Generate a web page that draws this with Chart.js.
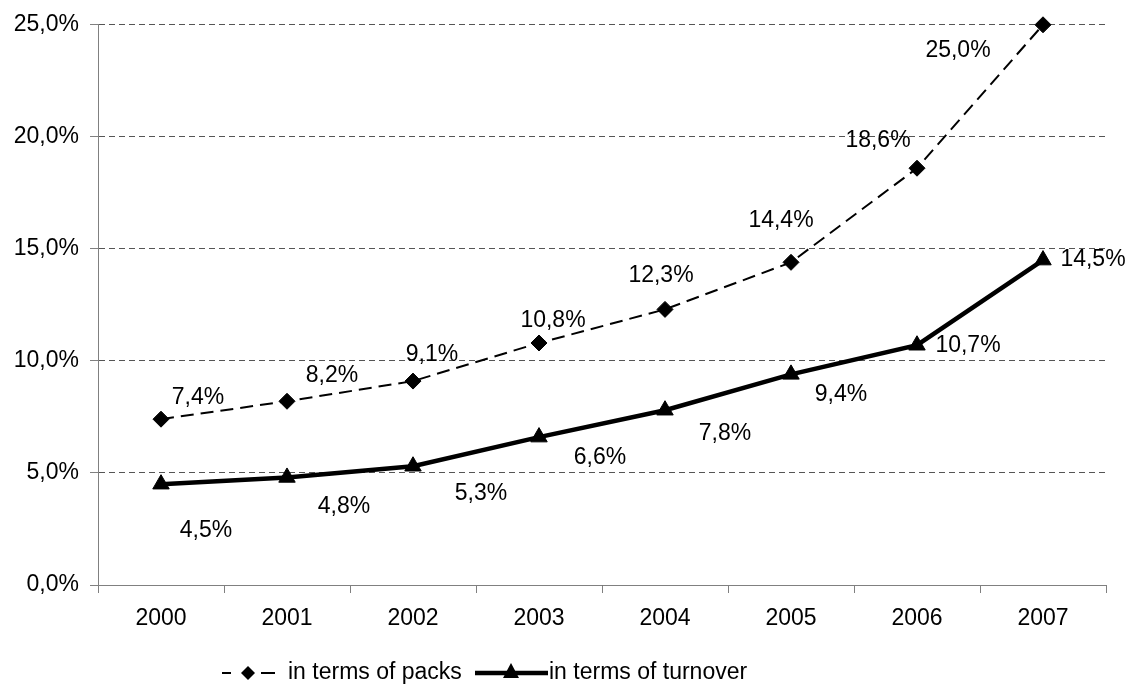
<!doctype html>
<html lang="en">
  <head>
    <meta charset="utf-8">
    <title> packs vs turnover </title>
    <style>
      html, body { margin: 0; padding: 0; background: #ffffff; }
      #wrap { width: 1134px; height: 688px; position: relative; }
    </style>
  </head>
  <body>
  <div id="wrap">
    <canvas id="shareGraph"></canvas>
  </div>

  <script src="https://cdn.jsdelivr.net/npm/chart.js@4.4.0/dist/chart.umd.min.js"></script>
  <script>
    // data
    const years = ['2000', '2001', '2002', '2003', '2004', '2005', '2006', '2007'];
    const packs = [7.4, 8.2, 9.1, 10.8, 12.3, 14.4, 18.6, 25.0];
    const turnover = [4.5, 4.8, 5.3, 6.6, 7.8, 9.4, 10.7, 14.5];
    const packsLabel = 'in terms of packs';
    const turnoverLabel = 'in terms of turnover';

    // where each value label sits relative to its point (px)
    const packsLabelOffset = [[37, -22], [45, -26], [19, -26], [14, -22], [-4, -34], [-10, -42], [-39, -28], [-85, 26]];
    const turnoverLabelOffset = [[45, 46], [57, 29], [68, 27], [61, 21], [60, 23], [50, 20], [51, 0], [50, 0]];

    const FONT = 'Liberation Sans, Arial, sans-serif';
    const fmt = v => v.toFixed(1).replace('.', ',') + '%';

    const valueLabels = {
      id: 'valueLabels',
      afterDatasetsDraw(chart) {
        const ctx = chart.ctx;
        ctx.save();
        ctx.font = '23px ' + FONT;
        ctx.fillStyle = '#000';
        ctx.textAlign = 'center';
        ctx.textBaseline = 'middle';
        chart.data.datasets.forEach((ds, di) => {
          const meta = chart.getDatasetMeta(di);
          const offs = di === 0 ? packsLabelOffset : turnoverLabelOffset;
          meta.data.forEach((pt, i) => {
            ctx.fillText(fmt(ds.data[i]), pt.x + offs[i][0], pt.y + offs[i][1]);
          });
        });
        ctx.restore();
      }
    };

    const bottomLegend = {
      id: 'bottomLegend',
      afterDraw(chart) {
        const ctx = chart.ctx;
        const y = 673;
        ctx.save();
        // packs symbol
        ctx.strokeStyle = '#000';
        ctx.fillStyle = '#000';
        ctx.lineWidth = 2;
        ctx.beginPath();
        ctx.moveTo(222, y); ctx.lineTo(231, y);
        ctx.moveTo(261, y); ctx.lineTo(275, y);
        ctx.stroke();
        ctx.beginPath();
        ctx.moveTo(248, y - 7); ctx.lineTo(255, y); ctx.lineTo(248, y + 7); ctx.lineTo(241, y);
        ctx.closePath(); ctx.fill();
        // turnover symbol
        ctx.lineWidth = 4.5;
        ctx.beginPath();
        ctx.moveTo(475, y); ctx.lineTo(548, y);
        ctx.stroke();
        ctx.beginPath();
        ctx.moveTo(511, y - 10); ctx.lineTo(519, y + 5); ctx.lineTo(503, y + 5);
        ctx.closePath(); ctx.fill();
        // texts
        ctx.font = '23px ' + FONT;
        ctx.textAlign = 'left';
        ctx.textBaseline = 'middle';
        ctx.fillText(packsLabel, 288, y);
        ctx.fillText(turnoverLabel, 549, y);
        ctx.restore();
      }
    };

    const config = {
      type: 'line',
      data: {
        labels: years,
        datasets: [{
          label: packsLabel,
          data: packs,
          borderColor: '#000',
          backgroundColor: '#000',
          borderWidth: 2,
          borderDash: [13, 7],
          pointStyle: 'rectRot',
          pointRadius: 8,
          pointBorderWidth: 1,
          tension: 0,
          fill: false,
          clip: false
        }, {
          label: turnoverLabel,
          data: turnover,
          borderColor: '#000',
          backgroundColor: '#000',
          borderWidth: 4.5,
          pointStyle: 'triangle',
          pointRadius: 9.5,
          pointBorderWidth: 1,
          tension: 0,
          fill: false,
          clip: false
        }]
      },
      options: {
        responsive: true,
        maintainAspectRatio: false,
        animation: false,
        layout: { padding: { top: 20, right: 28, bottom: 60, left: 0 } },
        plugins: {
          legend: { display: false },
          tooltip: { enabled: false }
        },
        scales: {
          x: {
            offset: true,
            grid: {
              offset: true,
              drawOnChartArea: false,
              drawTicks: true,
              tickLength: 8,
              tickColor: '#808080'
            },
            border: { display: true, color: '#808080', width: 1 },
            ticks: { color: '#000', font: { family: FONT, size: 23 }, padding: 12, maxRotation: 0 },
            afterFit(scale) { scale.height = 43; }
          },
          y: {
            min: 0,
            max: 25,
            grid: {
              color: '#555',
              lineWidth: 1,
              drawTicks: true,
              tickLength: 8,
              tickColor: '#808080',
              tickBorderDash: []
            },
            border: { display: true, color: '#808080', width: 1, dash: [6, 4] },
            ticks: {
              stepSize: 5,
              color: '#000',
              font: { family: FONT, size: 23 },
              padding: 11,
              callback: v => fmt(v)
            },
            afterFit(scale) { scale.width = 98; }
          }
        }
      },
      plugins: [valueLabels, bottomLegend]
    };

    new Chart(document.getElementById('shareGraph'), config);
  </script>
  </body>
</html>
